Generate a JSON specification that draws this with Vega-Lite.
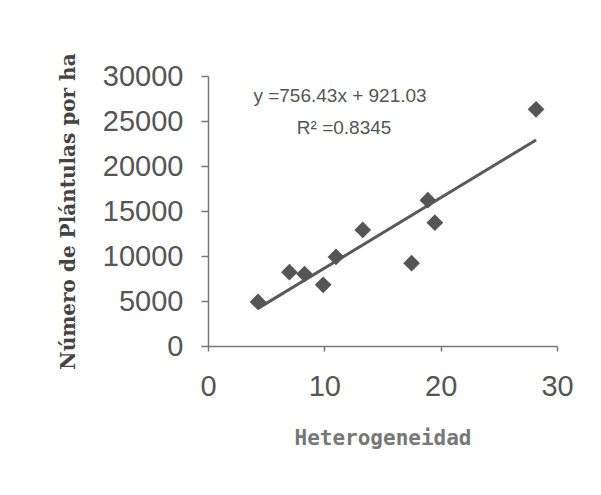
{
  "$schema": "https://vega.github.io/schema/vega-lite/v6.json",
  "width": 349,
  "height": 270,
  "autosize": {"type": "none"},
  "padding": {"left": 208, "top": 76, "right": 44, "bottom": 149},
  "background": "white",
  "config": {"view": {"stroke": null}},
  "datasets": {
    "pts": [
      {"het": 4.3, "plantulas": 4900},
      {"het": 7.0, "plantulas": 8200},
      {"het": 8.3, "plantulas": 8000},
      {"het": 9.9, "plantulas": 6800},
      {"het": 11.0, "plantulas": 9900},
      {"het": 13.3, "plantulas": 12900},
      {"het": 17.5, "plantulas": 9200},
      {"het": 18.9, "plantulas": 16200},
      {"het": 19.5, "plantulas": 13700},
      {"het": 28.2, "plantulas": 26300}
    ],
    "labels": [
      {"het": 11.35, "plantulas": 27800, "txt": "y =756.43x + 921.03"},
      {"het": 11.7, "plantulas": 24200, "txt": "R² =0.8345"}
    ]
  },
  "layer": [
    {
      "data": {"name": "pts"},
      "transform": [{"regression": "plantulas", "on": "het"}],
      "mark": {"type": "line", "color": "#5a5a5a", "strokeWidth": 3},
      "encoding": {
        "x": {"field": "het", "type": "quantitative"},
        "y": {"field": "plantulas", "type": "quantitative"}
      }
    },
    {
      "data": {"name": "pts"},
      "mark": {"type": "point", "shape": "diamond", "filled": true, "color": "#555555", "opacity": 1, "size": 280},
      "encoding": {
        "x": {
          "field": "het", "type": "quantitative",
          "scale": {"domain": [0, 30], "nice": false, "zero": true},
          "axis": {
            "title": "Heterogeneidad",
            "values": [0, 10, 20, 30],
            "grid": false,
            "domainColor": "#777777", "domainWidth": 1.5,
            "tickColor": "#777777", "tickSize": 5, "tickWidth": 1.5,
            "labelFont": "Liberation Sans", "labelFontSize": 29, "labelColor": "#555555", "labelPadding": 21,
            "labelFlush": false,
            "titleFont": "DejaVu Sans Mono", "titleFontSize": 21, "titleFontWeight": "bold", "titleColor": "#777777", "titlePadding": 26
          }
        },
        "y": {
          "field": "plantulas", "type": "quantitative",
          "scale": {"domain": [0, 30000], "nice": false},
          "axis": {
            "title": "Número de Plántulas por ha",
            "values": [0, 5000, 10000, 15000, 20000, 25000, 30000],
            "format": "d",
            "grid": false,
            "domainColor": "#777777", "domainWidth": 1.5,
            "tickColor": "#777777", "tickSize": 7, "tickWidth": 1.5,
            "labelFont": "Liberation Sans", "labelFontSize": 29, "labelColor": "#555555", "labelPadding": 18,
            "labelFlush": false,
            "titleFont": "DejaVu Serif", "titleFontSize": 20, "titleFontWeight": "bold", "titleColor": "#444444", "titlePadding": 24
          }
        }
      }
    },
    {
      "data": {"name": "labels"},
      "mark": {"type": "text", "font": "Liberation Sans", "fontSize": 19, "color": "#555555", "align": "center", "baseline": "middle"},
      "encoding": {
        "x": {"field": "het", "type": "quantitative"},
        "y": {"field": "plantulas", "type": "quantitative"},
        "text": {"field": "txt"}
      }
    }
  ]
}
